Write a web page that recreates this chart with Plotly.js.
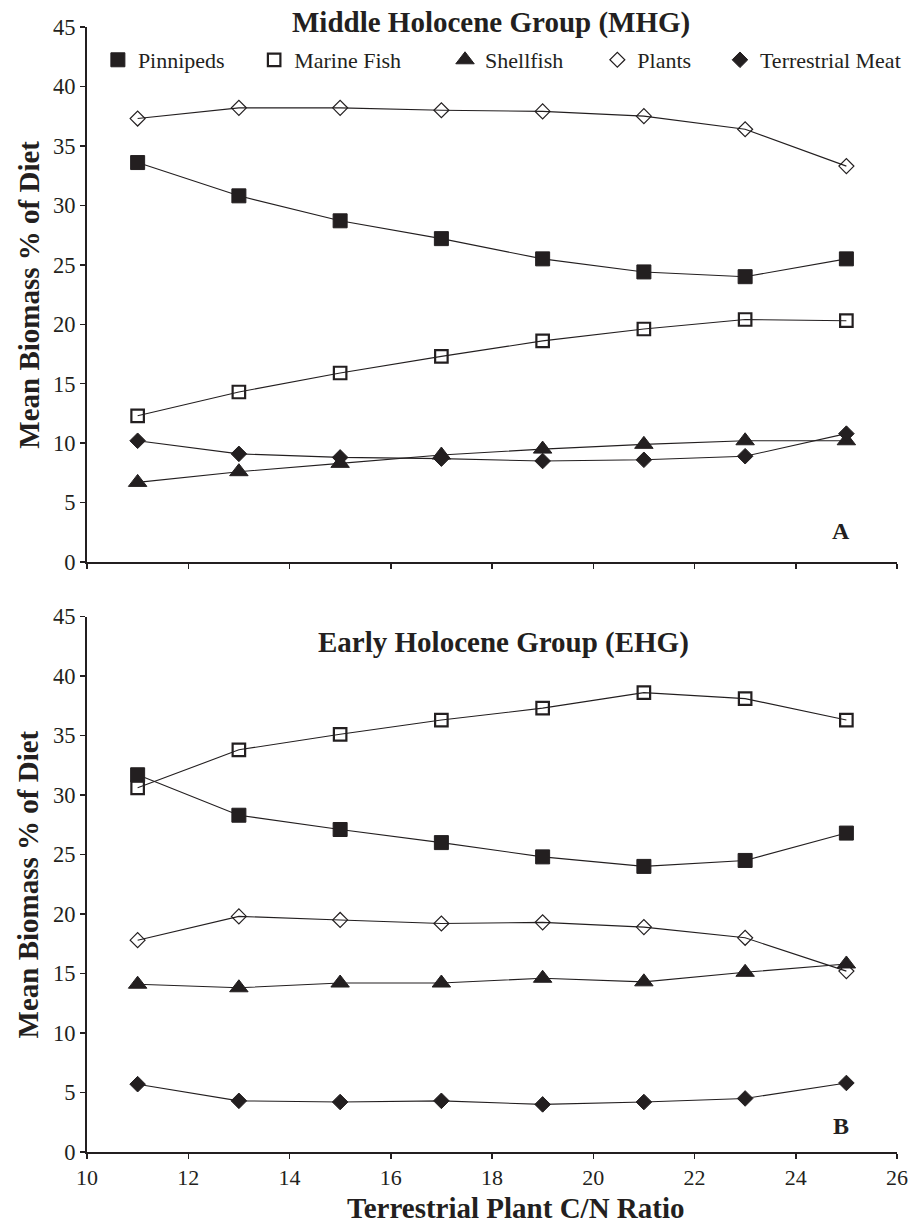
<!DOCTYPE html>
<html>
<head>
<meta charset="utf-8">
<script src="https://cdn.plot.ly/plotly-3.0.1.min.js"></script>
<style>html,body{margin:0;padding:0;background:#fff;}#chart{width:918px;height:1223px;}</style>
</head>
<body>
<div id="chart"></div>
<script>
// ---- data ----
const cnRatio = [11, 13, 15, 17, 19, 21, 23, 25];
const seriesNames = ["Pinnipeds", "Marine Fish", "Shellfish", "Plants", "Terrestrial Meat"];

const mhgPinnipeds = [33.6, 30.8, 28.7, 27.2, 25.5, 24.4, 24.0, 25.5];
const mhgMarineFish = [12.3, 14.3, 15.9, 17.3, 18.6, 19.6, 20.4, 20.3];
const mhgShellfish = [6.7, 7.6, 8.3, 9.0, 9.5, 9.9, 10.2, 10.2];
const mhgPlants = [37.3, 38.2, 38.2, 38.0, 37.9, 37.5, 36.4, 33.3];
const mhgTerrMeat = [10.2, 9.1, 8.8, 8.7, 8.5, 8.6, 8.9, 10.8];

const ehgPinnipeds = [31.7, 28.3, 27.1, 26.0, 24.8, 24.0, 24.5, 26.8];
const ehgMarineFish = [30.6, 33.8, 35.1, 36.3, 37.3, 38.6, 38.1, 36.3];
const ehgShellfish = [14.1, 13.8, 14.2, 14.2, 14.6, 14.3, 15.1, 15.8];
const ehgPlants = [17.8, 19.8, 19.5, 19.2, 19.3, 18.9, 18.0, 15.2];
const ehgTerrMeat = [5.7, 4.3, 4.2, 4.3, 4.0, 4.2, 4.5, 5.8];

const yTicks = [0, 5, 10, 15, 20, 25, 30, 35, 40, 45];
const xTicks = [10, 12, 14, 16, 18, 20, 22, 24, 26];

// ---- styles ----
const INK = '#231f20';
const FONT = 'Liberation Serif, Times New Roman, serif';
const W = 918, H = 1223;
const M = {l: 87, r: 12, t: 27, b: 70.5};
const PW = W - M.l - M.r, PH = H - M.t - M.b;
const px2paperX = px => (px - M.l) / PW;
const px2paperY = py => (H - M.b - py) / PH;

const markerStyles = [
  {symbol: 'square', size: 14, color: INK, line: {color: INK, width: 1}},
  {symbol: 'square-open', size: 12.5, color: INK, line: {color: INK, width: 2.2}},
  {symbol: 'triangle-up', size: 16, color: INK, line: {color: INK, width: 1}},
  {symbol: 'diamond-open', size: 11.5, color: INK, line: {color: INK, width: 1.2}},
  {symbol: 'diamond', size: 12, color: INK, line: {color: INK, width: 1}}
];
// left pixel of each legend box (symbol centre ~20px, text ~40px later)
const legendLeftPx = [98, 256, 449, 603, 727];
const legendIds = ['legend', 'legend2', 'legend3', 'legend4', 'legend5'];

const mhg = [mhgPinnipeds, mhgMarineFish, mhgShellfish, mhgPlants, mhgTerrMeat];
const ehg = [ehgPinnipeds, ehgMarineFish, ehgShellfish, ehgPlants, ehgTerrMeat];

const traces = [];
[[mhg, 'x', 'y'], [ehg, 'x2', 'y2']].forEach(([group, xa, ya]) => {
  group.forEach(vals => {
    traces.push({
      x: cnRatio, y: vals, xaxis: xa, yaxis: ya,
      type: 'scatter', mode: 'lines', showlegend: false, hoverinfo: 'skip',
      line: {color: INK, width: 1.1}
    });
  });
});
[[mhg, 'x', 'y', true], [ehg, 'x2', 'y2', false]].forEach(([group, xa, ya, leg]) => {
  group.forEach((vals, i) => {
    traces.push({
      x: cnRatio, y: vals, xaxis: xa, yaxis: ya,
      type: 'scatter', mode: 'markers', name: seriesNames[i],
      showlegend: leg, legend: legendIds[i],
      marker: markerStyles[i]
    });
  });
});

const yAxisCommon = {
  range: [0, 45], tickvals: yTicks, ticks: 'outside', ticklen: 5, tickwidth: 1.5,
  tickcolor: INK, showline: true, linecolor: INK, linewidth: 2, showgrid: false,
  zeroline: false, tickfont: {family: FONT, size: 22.5, color: INK}
};
const xAxisCommon = {
  range: [10, 26], tickvals: xTicks, ticks: 'outside', ticklen: 5, tickwidth: 1.5,
  tickcolor: INK, showline: true, linecolor: INK, linewidth: 2, showgrid: false,
  zeroline: false, tickfont: {family: FONT, size: 22, color: INK}
};

const legendBase = {
  orientation: 'h', xanchor: 'left', y: px2paperY(60), yanchor: 'middle',
  font: {family: FONT, size: 22, color: INK}, bgcolor: 'rgba(0,0,0,0)',
  itemwidth: 30, borderwidth: 0
};

const titleFont = {family: FONT, size: 29, color: INK};
const layout = {
  width: W, height: H,
  margin: {l: M.l, r: M.r, t: M.t, b: M.b},
  paper_bgcolor: '#fff', plot_bgcolor: '#fff',
  font: {family: FONT, color: INK},
  xaxis: Object.assign({}, xAxisCommon, {anchor: 'y', showticklabels: false}),
  yaxis: Object.assign({}, yAxisCommon, {domain: [0.5244, 1], anchor: 'x'}),
  xaxis2: Object.assign({}, xAxisCommon, {anchor: 'y2'}),
  yaxis2: Object.assign({}, yAxisCommon, {domain: [0, 0.476], anchor: 'x2'}),
  showlegend: true,
  annotations: [
    {text: '<b>Middle Holocene Group (MHG)</b>', xref: 'paper', yref: 'paper', x: px2paperX(495), y: px2paperY(22),
      xanchor: 'center', yanchor: 'middle', showarrow: false, font: titleFont},
    {text: '<b>Early Holocene Group (EHG)</b>', xref: 'paper', yref: 'paper', x: px2paperX(508), y: px2paperY(643),
      xanchor: 'center', yanchor: 'middle', showarrow: false, font: titleFont},
    {text: '<b>Terrestrial Plant C/N Ratio</b>', xref: 'paper', yref: 'paper', x: px2paperX(520), y: px2paperY(1209),
      xanchor: 'center', yanchor: 'middle', showarrow: false, font: titleFont},
    {text: '<b>Mean Biomass % of Diet</b>', xref: 'paper', yref: 'y domain', x: px2paperX(27.5), y: 0.5,
      textangle: -90, xanchor: 'center', yanchor: 'middle', showarrow: false, font: titleFont},
    {text: '<b>Mean Biomass % of Diet</b>', xref: 'paper', yref: 'y2 domain', x: px2paperX(27.5), y: 0.5,
      textangle: -90, xanchor: 'center', yanchor: 'middle', showarrow: false, font: titleFont},
    {text: '<b>A</b>', xref: 'x', yref: 'y', x: 24.89, y: 2.6, xanchor: 'center', yanchor: 'middle',
      showarrow: false, font: {family: FONT, size: 24, color: INK}},
    {text: '<b>B</b>', xref: 'x2', yref: 'y2', x: 24.89, y: 2.2, xanchor: 'center', yanchor: 'middle',
      showarrow: false, font: {family: FONT, size: 24, color: INK}}
  ]
};
legendIds.forEach((id, i) => {
  layout[id] = Object.assign({}, legendBase, {x: px2paperX(legendLeftPx[i])});
});

Plotly.newPlot('chart', traces, layout, {displayModeBar: false, staticPlot: true});
</script>
</body>
</html>
